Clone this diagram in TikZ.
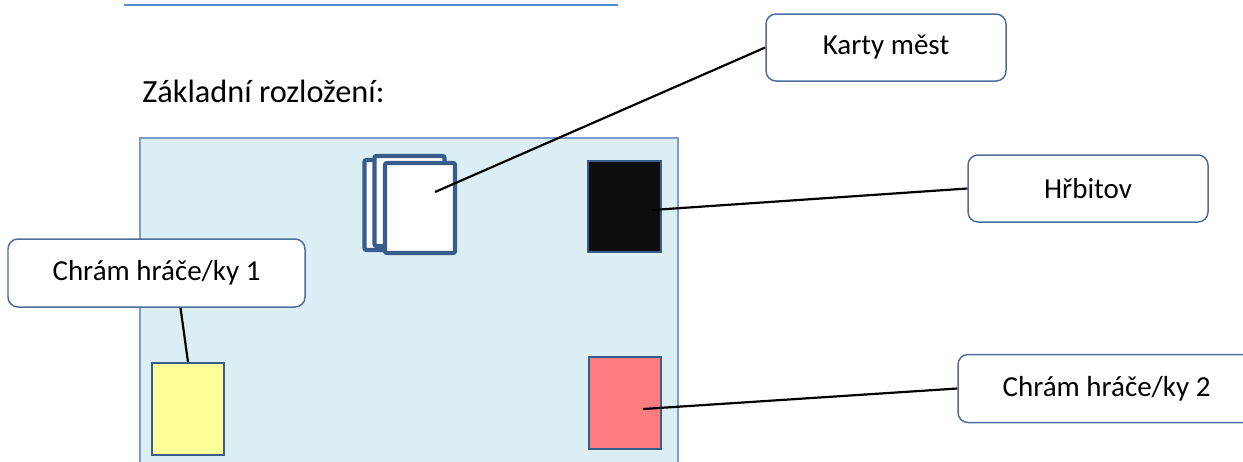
\documentclass[tikz,border=0pt]{standalone}
\usepackage{fontspec}
\setmainfont{Carlito}

\definecolor{rulecol}{HTML}{548DD4}
\definecolor{boardfill}{HTML}{DAEEF3}
\definecolor{boardline}{HTML}{7F9CC6}
\definecolor{cardline}{HTML}{385D8A}
\definecolor{boxline}{HTML}{4E6E9E}
\definecolor{deadcard}{HTML}{0D0D0D}
\definecolor{yellowcard}{HTML}{FFFF99}
\definecolor{redcard}{HTML}{FF7C80}

\def\px{0.02cm}

\tikzset{
  callout/.style={draw=boxline, line width=0.85pt, fill=white, rounded corners=10*\px,
    minimum height=67*\px, inner sep=0pt, font=\fontsize{16.5}{20}\selectfont},
  citycard/.style={draw=cardline, line width=2.4pt, fill=white, rounded corners=2*\px,
    minimum width=70*\px, minimum height=90*\px, inner sep=0pt},
  pilecard/.style={draw=cardline, line width=1.1pt, minimum width=72*\px,
    minimum height=92*\px, inner sep=0pt},
  pointer/.style={draw=black, line width=1.25pt}
}

\begin{document}
\begin{tikzpicture}[x=\px, y=-\px]
\useasboundingbox (0,0) rectangle (1243,461);
\clip (0,0) rectangle (1243,461);

\def\bleft{140};
\def\bright{678};
\def\btop{138};
\def\bbot{475};

% header rule and title
\draw[rulecol, line width=1.5pt] (124,5) -- (618,5);
\node[anchor=base west, inner sep=0pt, font=\fontsize{18.4}{22}\selectfont] (title) at (142,102) {Základní rozložení:};

% board
\filldraw[fill=boardfill, draw=boardline, line width=0.85pt] (\bleft,\btop) rectangle (\bright,\bbot);

% city deck
\node[citycard] (back) at (399.5,205) {};
\node[citycard] (mid) at (409.5,201) {};
\node[citycard] (front) at (420,208) {};

% graveyard and temples
\node[pilecard, fill=deadcard, minimum width=73*\px, minimum height=91*\px] (dead) at (624.5,206.5) {};
\node[pilecard, fill=yellowcard] (yel) at (188,409) {};
\node[pilecard, fill=redcard] (red) at (625,403) {};

% labels
\node[callout, minimum width=240*\px] (karty) at (886,47.5) {Karty měst};
\node[callout, minimum width=240*\px] (hrbitov) at (1088,188.5) {Hřbitov};
\node[callout, minimum width=297*\px, minimum height=68*\px] (chram1) at (156.5,273) {Chrám hráče/ky 1};
\node[callout, minimum width=297*\px, minimum height=68*\px] (chram2) at (1106.5,388.5) {Chrám hráče/ky 2};

\coordinate (kp) at (435,192);
\coordinate (hp) at (652,210);
\coordinate (rp) at (643,409);

\draw[pointer] (kp) -- (karty.west);
\draw[pointer] (hp) -- (hrbitov.west);
\draw[pointer] ([xshift=24*\px]chram1.south) -- (yel.north);
\draw[pointer] (rp) -- (chram2.west);

\end{tikzpicture}
\end{document}
